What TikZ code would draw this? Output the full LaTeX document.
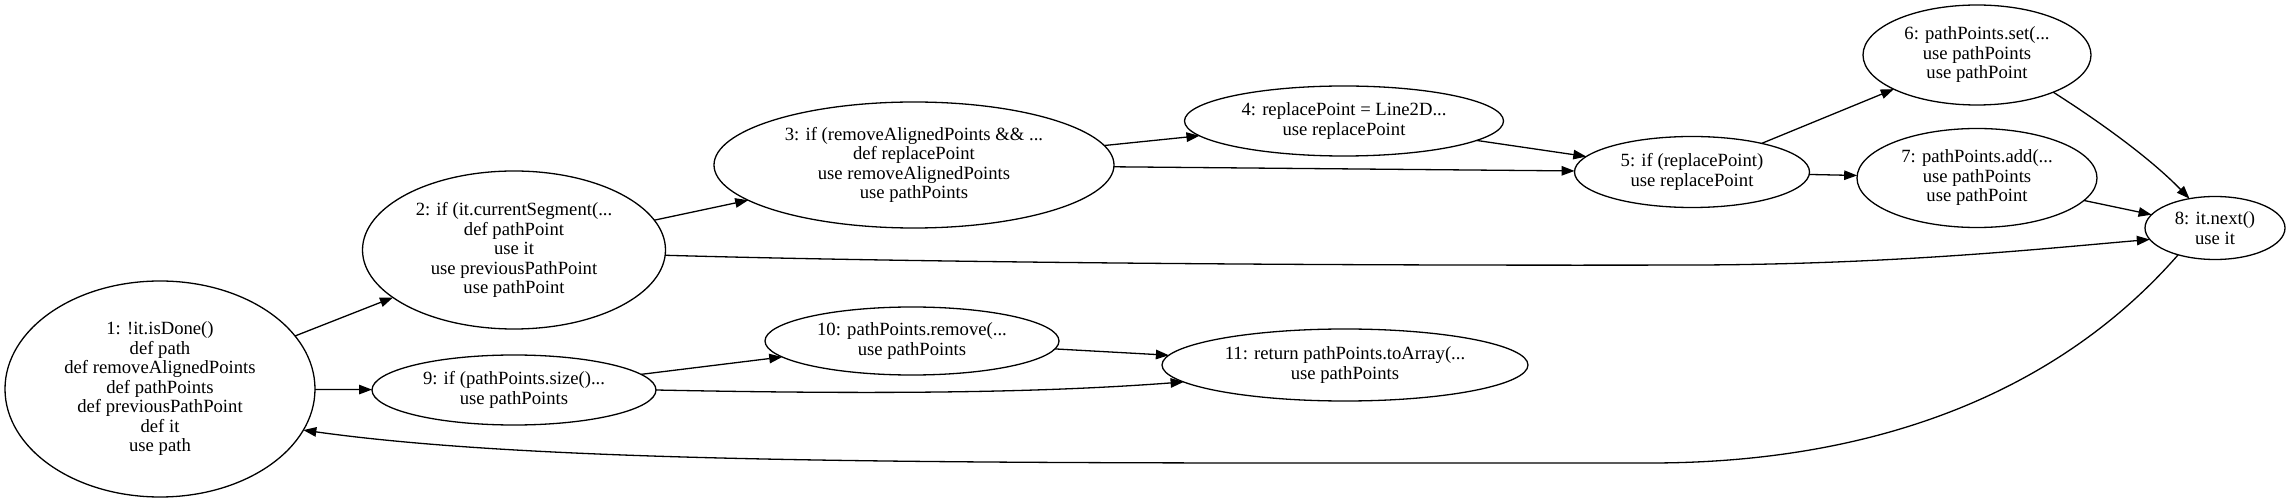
\documentclass[tikz,border=0pt]{standalone}
\usepackage{fontspec}
\setmainfont{Liberation Serif}
\usetikzlibrary{shapes.geometric,arrows.meta}
\begin{document}
\begin{tikzpicture}[x=1pt,y=-1pt,
  stmt/.style={draw, ellipse, line width=1.3pt, inner sep=0pt, outer sep=0pt, align=center,
    font=\fontsize{18.67pt}{19.5pt}\selectfont},
  flow/.style={line width=1.3pt, -{Triangle[length=13pt,width=9.5pt]}}]
\useasboundingbox (0,0) rectangle (2292,502);
\node[stmt, minimum width=310pt, minimum height=216pt] (s1) at (160,389) {1: !it.isDone()\\def path\\def removeAlignedPoints\\def pathPoints\\def previousPathPoint\\def it\\use path};
\node[stmt, minimum width=303pt, minimum height=158pt] (s2) at (514,250) {2: if (it.currentSegment(...\\def pathPoint\\use it\\use previousPathPoint\\use pathPoint};
\node[stmt, minimum width=400pt, minimum height=126pt] (s3) at (914,165) {3: if (removeAlignedPoints \&\& ...\\def replacePoint\\use removeAlignedPoints\\use pathPoints};
\node[stmt, minimum width=319pt, minimum height=70pt] (s4) at (1344,121) {4: replacePoint = Line2D...\\use replacePoint};
\node[stmt, minimum width=235pt, minimum height=71pt] (s5) at (1692,172) {5: if (replacePoint)\\use replacePoint};
\node[stmt, minimum width=228pt, minimum height=100pt] (s6) at (1977,55) {6: pathPoints.set(...\\use pathPoints\\use pathPoint};
\node[stmt, minimum width=240pt, minimum height=99pt] (s7) at (1977,178) {7: pathPoints.add(...\\use pathPoints\\use pathPoint};
\node[stmt, minimum width=140pt, minimum height=63pt] (s8) at (2215,228) {8: it.next()\\use it};
\node[stmt, minimum width=284pt, minimum height=70pt] (s9) at (514,390) {9: if (pathPoints.size()...\\use pathPoints};
\node[stmt, minimum width=294pt, minimum height=68pt] (s10) at (912,341) {10: pathPoints.remove(...\\use pathPoints};
\node[stmt, minimum width=366pt, minimum height=72pt] (s11) at (1345,365) {11: return pathPoints.toArray(...\\use pathPoints};
\draw[flow] (s1)--(s2);
\draw[flow] (s1)--(s9);
\draw[flow] (s2)--(s3);
\draw[flow] (s3)--(s4);
\draw[flow] (s3)--(s5);
\draw[flow] (s4)--(s5);
\draw[flow] (s5)--(s6);
\draw[flow] (s5)--(s7);
\draw[flow] (s7)--(s8);
\draw[flow] (s9)--(s10);
\draw[flow] (s10)--(s11);
\draw[flow] (s2.-2) .. controls (900,262) and (1300,266) .. (1700,265) .. controls (1900,264) and (2050,248) .. (s8.190);
\draw[flow] (s6.-26) .. controls (2100,122) and (2150,158) .. (s8.131);
\draw[flow] (s9.east) .. controls (900,395) and (1050,392) .. (s11.186);
\draw[flow] (s8.216) .. controls (2060,390) and (1880,463) .. (1650,463) .. controls (1000,463) and (560,466) .. (s1.-16);
\end{tikzpicture}
\end{document}
